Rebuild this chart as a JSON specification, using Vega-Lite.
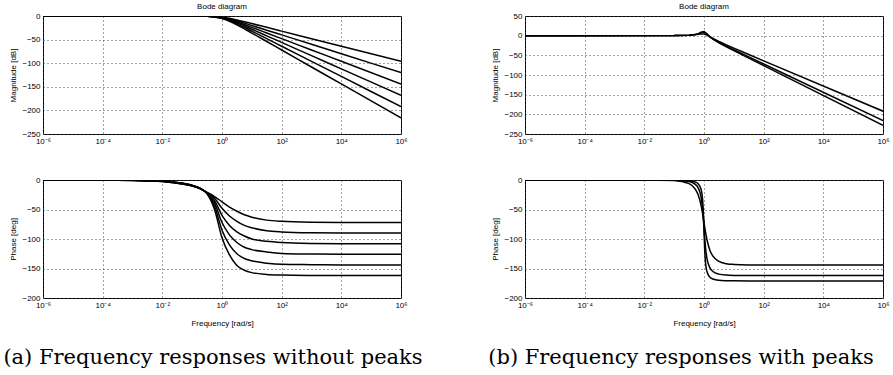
{
  "$schema": "https://vega.github.io/schema/vega-lite/v6.json",
  "background": "white",
  "padding": {"left": 2, "top": 2, "right": 5, "bottom": 5},
  "config": {
    "font": "Liberation Sans",
    "view": {"stroke": "black", "strokeWidth": 1},
    "axis": {"domain": false, "ticks": false, "grid": true, "gridDash": [1, 3], "gridColor": "#444", "gridWidth": 1, "labelFontSize": 8, "labelColor": "black", "titleFontSize": 8, "titleFontWeight": "normal", "titleColor": "black", "labelPadding": 3, "titlePadding": 4},
    "title": {"fontSize": 8, "fontWeight": "normal", "color": "black"},
    "line": {"color": "black", "strokeWidth": 1.5, "interpolate": "monotone"}
  },
  "datasets": {
    "a": [
      {"c":"0.8","w":1e-6,"m":0,"p":0},{"c":"0.8","w":1e-4,"m":0,"p":-0.15},{"c":"0.8","w":1e-3,"m":0,"p":-0.8},{"c":"0.8","w":0.01,"m":0,"p":-2.6},{"c":"0.8","w":0.03162,"m":-0.003,"p":-5.6},{"c":"0.8","w":0.1,"m":-0.035,"p":-10.3},{"c":"0.8","w":0.1778,"m":-0.108,"p":-14.5},{"c":"0.8","w":0.3162,"m":-0.331,"p":-21},{"c":"0.8","w":0.5623,"m":-0.954,"p":-28},{"c":"0.8","w":1,"m":-2.408,"p":-37},{"c":"0.8","w":1.778,"m":-4.955,"p":-46},{"c":"0.8","w":3.162,"m":-8.331,"p":-53},{"c":"0.8","w":5.623,"m":-12.108,"p":-59},{"c":"0.8","w":10,"m":-16.03,"p":-63},{"c":"0.8","w":31.62,"m":-24,"p":-68},{"c":"0.8","w":100,"m":-32,"p":-70},{"c":"0.8","w":1000,"m":-48,"p":-71.5},{"c":"0.8","w":1e4,"m":-64,"p":-71.9},{"c":"0.8","w":1e6,"m":-96,"p":-72},
      {"c":"1.0","w":1e-6,"m":0,"p":0},{"c":"1.0","w":1e-4,"m":0,"p":-0.13},{"c":"1.0","w":1e-3,"m":0,"p":-0.7},{"c":"1.0","w":0.01,"m":0,"p":-2.4},{"c":"1.0","w":0.03162,"m":-0.004,"p":-5.3},{"c":"1.0","w":0.1,"m":-0.043,"p":-10},{"c":"1.0","w":0.1778,"m":-0.135,"p":-14.3},{"c":"1.0","w":0.3162,"m":-0.414,"p":-21.5},{"c":"1.0","w":0.5623,"m":-1.193,"p":-31},{"c":"1.0","w":1,"m":-3.01,"p":-48},{"c":"1.0","w":1.778,"m":-6.194,"p":-61},{"c":"1.0","w":3.162,"m":-10.41,"p":-70},{"c":"1.0","w":5.623,"m":-15.14,"p":-77},{"c":"1.0","w":10,"m":-20.04,"p":-81},{"c":"1.0","w":31.62,"m":-30,"p":-86},{"c":"1.0","w":100,"m":-40,"p":-88},{"c":"1.0","w":1000,"m":-60,"p":-89.5},{"c":"1.0","w":1e4,"m":-80,"p":-89.9},{"c":"1.0","w":1e6,"m":-120,"p":-90},
      {"c":"1.2","w":1e-6,"m":0,"p":0},{"c":"1.2","w":1e-4,"m":0,"p":-0.11},{"c":"1.2","w":1e-3,"m":0,"p":-0.6},{"c":"1.2","w":0.01,"m":0,"p":-2.2},{"c":"1.2","w":0.03162,"m":-0.005,"p":-5},{"c":"1.2","w":0.1,"m":-0.052,"p":-9.7},{"c":"1.2","w":0.1778,"m":-0.162,"p":-14.1},{"c":"1.2","w":0.3162,"m":-0.497,"p":-22},{"c":"1.2","w":0.5623,"m":-1.432,"p":-35},{"c":"1.2","w":1,"m":-3.61,"p":-60},{"c":"1.2","w":1.778,"m":-7.43,"p":-77},{"c":"1.2","w":3.162,"m":-12.5,"p":-88},{"c":"1.2","w":5.623,"m":-18.16,"p":-95},{"c":"1.2","w":10,"m":-24.05,"p":-100},{"c":"1.2","w":31.62,"m":-36,"p":-104},{"c":"1.2","w":100,"m":-48,"p":-106},{"c":"1.2","w":1000,"m":-72,"p":-107.5},{"c":"1.2","w":1e4,"m":-96,"p":-107.9},{"c":"1.2","w":1e6,"m":-144,"p":-108},
      {"c":"1.4","w":1e-6,"m":0,"p":0},{"c":"1.4","w":1e-4,"m":0,"p":-0.09},{"c":"1.4","w":1e-3,"m":0,"p":-0.5},{"c":"1.4","w":0.01,"m":0,"p":-2},{"c":"1.4","w":0.03162,"m":-0.006,"p":-4.7},{"c":"1.4","w":0.1,"m":-0.06,"p":-9.4},{"c":"1.4","w":0.1778,"m":-0.189,"p":-13.9},{"c":"1.4","w":0.3162,"m":-0.579,"p":-22.5},{"c":"1.4","w":0.5623,"m":-1.67,"p":-39},{"c":"1.4","w":1,"m":-4.21,"p":-72},{"c":"1.4","w":1.778,"m":-8.67,"p":-93},{"c":"1.4","w":3.162,"m":-14.58,"p":-106},{"c":"1.4","w":5.623,"m":-21.19,"p":-114},{"c":"1.4","w":10,"m":-28.06,"p":-118},{"c":"1.4","w":31.62,"m":-42,"p":-122},{"c":"1.4","w":100,"m":-56,"p":-124.5},{"c":"1.4","w":1000,"m":-84,"p":-125.5},{"c":"1.4","w":1e4,"m":-112,"p":-125.9},{"c":"1.4","w":1e6,"m":-168,"p":-126},
      {"c":"1.6","w":1e-6,"m":0,"p":0},{"c":"1.6","w":1e-4,"m":0,"p":-0.07},{"c":"1.6","w":1e-3,"m":0,"p":-0.4},{"c":"1.6","w":0.01,"m":0,"p":-1.8},{"c":"1.6","w":0.03162,"m":-0.007,"p":-4.4},{"c":"1.6","w":0.1,"m":-0.069,"p":-9.1},{"c":"1.6","w":0.1778,"m":-0.216,"p":-13.7},{"c":"1.6","w":0.3162,"m":-0.662,"p":-23},{"c":"1.6","w":0.5623,"m":-1.909,"p":-44},{"c":"1.6","w":1,"m":-4.82,"p":-85},{"c":"1.6","w":1.778,"m":-9.91,"p":-110},{"c":"1.6","w":3.162,"m":-16.66,"p":-125},{"c":"1.6","w":5.623,"m":-24.22,"p":-133},{"c":"1.6","w":10,"m":-32.07,"p":-137},{"c":"1.6","w":31.62,"m":-48,"p":-141},{"c":"1.6","w":100,"m":-64,"p":-143},{"c":"1.6","w":1000,"m":-96,"p":-143.5},{"c":"1.6","w":1e4,"m":-128,"p":-143.9},{"c":"1.6","w":1e6,"m":-192,"p":-144},
      {"c":"1.8","w":1e-6,"m":0,"p":0},{"c":"1.8","w":1e-4,"m":0,"p":-0.05},{"c":"1.8","w":1e-3,"m":0,"p":-0.3},{"c":"1.8","w":0.01,"m":0,"p":-1.6},{"c":"1.8","w":0.03162,"m":-0.008,"p":-4.1},{"c":"1.8","w":0.1,"m":-0.078,"p":-8.8},{"c":"1.8","w":0.1778,"m":-0.243,"p":-13.5},{"c":"1.8","w":0.3162,"m":-0.745,"p":-23.5},{"c":"1.8","w":0.5623,"m":-2.147,"p":-50},{"c":"1.8","w":1,"m":-5.42,"p":-98},{"c":"1.8","w":1.778,"m":-11.15,"p":-127},{"c":"1.8","w":3.162,"m":-18.75,"p":-145},{"c":"1.8","w":5.623,"m":-27.24,"p":-153},{"c":"1.8","w":10,"m":-36.08,"p":-157},{"c":"1.8","w":31.62,"m":-54,"p":-160},{"c":"1.8","w":100,"m":-72,"p":-161},{"c":"1.8","w":1000,"m":-108,"p":-161.7},{"c":"1.8","w":1e4,"m":-144,"p":-161.9},{"c":"1.8","w":1e6,"m":-216,"p":-162}
    ],
    "bm": [
      {"c":"1.6","w":1e-6,"m":0},{"c":"1.6","w":0.1,"m":0.18},{"c":"1.6","w":0.3162,"m":1.14},{"c":"1.6","w":0.5012,"m":2.41},{"c":"1.6","w":0.631,"m":3.42},{"c":"1.6","w":0.7943,"m":4.45},{"c":"1.6","w":1,"m":4.2},{"c":"1.6","w":1.259,"m":1.25},{"c":"1.6","w":1.585,"m":-2.98},{"c":"1.6","w":1.995,"m":-7.19},{"c":"1.6","w":3.162,"m":-14.86},{"c":"1.6","w":5.623,"m":-23.55},{"c":"1.6","w":10,"m":-31.82},{"c":"1.6","w":31.62,"m":-47.97},{"c":"1.6","w":100,"m":-64},{"c":"1.6","w":1e6,"m":-192},
      {"c":"1.8","w":1e-6,"m":0},{"c":"1.8","w":0.1,"m":0.13},{"c":"1.8","w":0.3162,"m":1.1},{"c":"1.8","w":0.5012,"m":2.72},{"c":"1.8","w":0.631,"m":4.43},{"c":"1.8","w":0.7943,"m":7.45},{"c":"1.8","w":1,"m":9},{"c":"1.8","w":1.259,"m":3.85},{"c":"1.8","w":1.585,"m":-2.77},{"c":"1.8","w":1.995,"m":-8.08},{"c":"1.8","w":3.162,"m":-16.9},{"c":"1.8","w":5.623,"m":-26.62},{"c":"1.8","w":10,"m":-35.87},{"c":"1.8","w":31.62,"m":-53.99},{"c":"1.8","w":100,"m":-72},{"c":"1.8","w":1e6,"m":-216},
      {"c":"1.9","w":1e-6,"m":0},{"c":"1.9","w":0.1,"m":0.11},{"c":"1.9","w":0.3162,"m":1.02},{"c":"1.9","w":0.5012,"m":2.67},{"c":"1.9","w":0.631,"m":4.56},{"c":"1.9","w":0.7943,"m":8.5},{"c":"1.9","w":1,"m":10.5},{"c":"1.9","w":1.259,"m":4.69},{"c":"1.9","w":1.585,"m":-3.04},{"c":"1.9","w":1.995,"m":-8.73},{"c":"1.9","w":3.162,"m":-17.98},{"c":"1.9","w":5.623,"m":-28.17},{"c":"1.9","w":10,"m":-37.89},{"c":"1.9","w":31.62,"m":-56.99},{"c":"1.9","w":100,"m":-76},{"c":"1.9","w":1e6,"m":-228}
    ],
    "bp": [
      {"c":"1.6","w":1e-6,"p":0},{"c":"1.6","w":0.01,"p":-0.02},{"c":"1.6","w":0.1,"p":-0.86},{"c":"1.6","w":0.3162,"p":-6.1},{"c":"1.6","w":0.5012,"p":-14.9},{"c":"1.6","w":0.631,"p":-24.7},{"c":"1.6","w":0.7943,"p":-42.7},{"c":"1.6","w":0.8913,"p":-56.2},{"c":"1.6","w":0.955,"p":-65.5},{"c":"1.6","w":1,"p":-72},{"c":"1.6","w":1.047,"p":-78.5},{"c":"1.6","w":1.122,"p":-87.8},{"c":"1.6","w":1.259,"p":-101.3},{"c":"1.6","w":1.585,"p":-119.3},{"c":"1.6","w":1.995,"p":-129.1},{"c":"1.6","w":3.162,"p":-137.9},{"c":"1.6","w":5.623,"p":-141.8},{"c":"1.6","w":10,"p":-143.1},{"c":"1.6","w":31.62,"p":-143.9},{"c":"1.6","w":100,"p":-143.95},{"c":"1.6","w":1e6,"p":-144},
      {"c":"1.8","w":1e-6,"p":0},{"c":"1.8","w":0.01,"p":0},{"c":"1.8","w":0.1,"p":-0.28},{"c":"1.8","w":0.3162,"p":-2.5},{"c":"1.8","w":0.5012,"p":-7},{"c":"1.8","w":0.631,"p":-13},{"c":"1.8","w":0.7943,"p":-28.8},{"c":"1.8","w":0.8913,"p":-47.9},{"c":"1.8","w":0.955,"p":-66.3},{"c":"1.8","w":1,"p":-81},{"c":"1.8","w":1.047,"p":-95.7},{"c":"1.8","w":1.122,"p":-114.1},{"c":"1.8","w":1.259,"p":-133.2},{"c":"1.8","w":1.585,"p":-149},{"c":"1.8","w":1.995,"p":-155},{"c":"1.8","w":3.162,"p":-159.5},{"c":"1.8","w":5.623,"p":-161.2},{"c":"1.8","w":10,"p":-161.7},{"c":"1.8","w":31.62,"p":-161.95},{"c":"1.8","w":100,"p":-162},{"c":"1.8","w":1e6,"p":-162},
      {"c":"1.9","w":1e-6,"p":0},{"c":"1.9","w":0.01,"p":0},{"c":"1.9","w":0.1,"p":-0.11},{"c":"1.9","w":0.3162,"p":-1.13},{"c":"1.9","w":0.5012,"p":-3.28},{"c":"1.9","w":0.631,"p":-6.33},{"c":"1.9","w":0.7943,"p":-15.6},{"c":"1.9","w":0.8913,"p":-31.3},{"c":"1.9","w":0.955,"p":-56.5},{"c":"1.9","w":1,"p":-85.5},{"c":"1.9","w":1.047,"p":-114.5},{"c":"1.9","w":1.122,"p":-139.7},{"c":"1.9","w":1.259,"p":-155.4},{"c":"1.9","w":1.585,"p":-164.7},{"c":"1.9","w":1.995,"p":-167.7},{"c":"1.9","w":3.162,"p":-169.9},{"c":"1.9","w":5.623,"p":-170.65},{"c":"1.9","w":10,"p":-170.9},{"c":"1.9","w":31.62,"p":-171},{"c":"1.9","w":100,"p":-171},{"c":"1.9","w":1e6,"p":-171}
    ]
  },
  "bounds": "flush",
  "columns": 2,
  "spacing": {"row": 46, "column": 124},
  "concat": [
    {
      "width": 358, "height": 118,
      "title": {"text": "Bode diagram", "offset": 1},
      "data": {"name": "a"},
      "mark": {"type": "line", "clip": true},
      "encoding": {
        "x": {"field": "w", "type": "quantitative", "scale": {"type": "log", "domain": [1e-6, 1e6], "nice": false}, "axis": {"title": null, "values": [1e-6, 1e-4, 1e-2, 1, 100, 1e4, 1e6], "labelFlush": false, "labelOverlap": false, "labelBound": false, "labelExpr": "datum.value < 1e-5 ? '10⁻⁶' : datum.value < 1e-3 ? '10⁻⁴' : datum.value < 0.1 ? '10⁻²' : datum.value < 10 ? '10⁰' : datum.value < 1000 ? '10²' : datum.value < 1e5 ? '10⁴' : '10⁶'"}},
        "y": {"field": "m", "type": "quantitative", "scale": {"domain": [-250, 0], "nice": false, "zero": false}, "axis": {"title": "Magnitude [dB]", "values": [-250, -200, -150, -100, -50, 0]}},
        "detail": {"field": "c"}
      }
    },
    {
      "width": 358, "height": 118,
      "title": {"text": "Bode diagram", "offset": 1},
      "data": {"name": "bm"},
      "mark": {"type": "line", "clip": true, "interpolate": "linear"},
      "encoding": {
        "x": {"field": "w", "type": "quantitative", "scale": {"type": "log", "domain": [1e-6, 1e6], "nice": false}, "axis": {"title": null, "values": [1e-6, 1e-4, 1e-2, 1, 100, 1e4, 1e6], "labelFlush": false, "labelOverlap": false, "labelBound": false, "labelExpr": "datum.value < 1e-5 ? '10⁻⁶' : datum.value < 1e-3 ? '10⁻⁴' : datum.value < 0.1 ? '10⁻²' : datum.value < 10 ? '10⁰' : datum.value < 1000 ? '10²' : datum.value < 1e5 ? '10⁴' : '10⁶'"}},
        "y": {"field": "m", "type": "quantitative", "scale": {"domain": [-250, 50], "nice": false, "zero": false}, "axis": {"title": "Magnitude [dB]", "values": [-250, -200, -150, -100, -50, 0, 50]}},
        "detail": {"field": "c"}
      }
    },
    {
      "width": 358, "height": 118,
      "title": {"text": "(a) Frequency responses without peaks", "orient": "bottom", "font": "DejaVu Serif", "fontSize": 21, "fontWeight": "normal", "offset": 20, "dx": -9, "color": "black"},
      "data": {"name": "a"},
      "mark": {"type": "line", "clip": true},
      "encoding": {
        "x": {"field": "w", "type": "quantitative", "scale": {"type": "log", "domain": [1e-6, 1e6], "nice": false}, "axis": {"title": "Frequency [rad/s]", "values": [1e-6, 1e-4, 1e-2, 1, 100, 1e4, 1e6], "labelFlush": false, "labelOverlap": false, "labelBound": false, "titlePadding": 10, "labelExpr": "datum.value < 1e-5 ? '10⁻⁶' : datum.value < 1e-3 ? '10⁻⁴' : datum.value < 0.1 ? '10⁻²' : datum.value < 10 ? '10⁰' : datum.value < 1000 ? '10²' : datum.value < 1e5 ? '10⁴' : '10⁶'"}},
        "y": {"field": "p", "type": "quantitative", "scale": {"domain": [-200, 0], "nice": false, "zero": false}, "axis": {"title": "Phase [deg]", "values": [-200, -150, -100, -50, 0]}},
        "detail": {"field": "c"}
      }
    },
    {
      "width": 358, "height": 118,
      "title": {"text": "(b) Frequency responses with peaks", "orient": "bottom", "font": "DejaVu Serif", "fontSize": 21, "fontWeight": "normal", "offset": 20, "dx": -23, "color": "black"},
      "data": {"name": "bp"},
      "mark": {"type": "line", "clip": true},
      "encoding": {
        "x": {"field": "w", "type": "quantitative", "scale": {"type": "log", "domain": [1e-6, 1e6], "nice": false}, "axis": {"title": "Frequency [rad/s]", "values": [1e-6, 1e-4, 1e-2, 1, 100, 1e4, 1e6], "labelFlush": false, "labelOverlap": false, "labelBound": false, "titlePadding": 10, "labelExpr": "datum.value < 1e-5 ? '10⁻⁶' : datum.value < 1e-3 ? '10⁻⁴' : datum.value < 0.1 ? '10⁻²' : datum.value < 10 ? '10⁰' : datum.value < 1000 ? '10²' : datum.value < 1e5 ? '10⁴' : '10⁶'"}},
        "y": {"field": "p", "type": "quantitative", "scale": {"domain": [-200, 0], "nice": false, "zero": false}, "axis": {"title": "Phase [deg]", "values": [-200, -150, -100, -50, 0]}},
        "detail": {"field": "c"}
      }
    }
  ]
}
